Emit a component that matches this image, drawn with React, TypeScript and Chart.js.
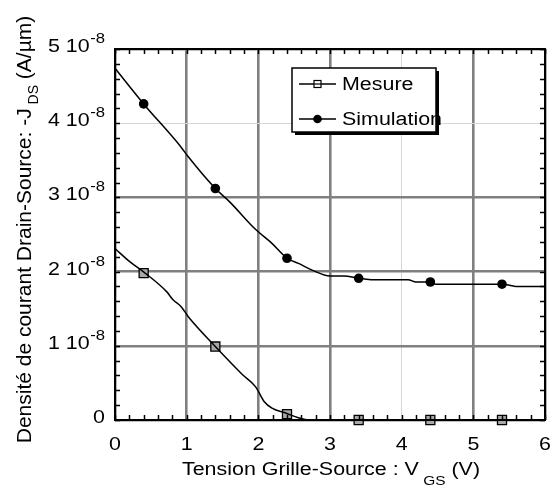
import React, { useEffect, useRef } from "react";
import { Chart, registerables } from "chart.js";

Chart.register(...registerables);

// ---- data (y values in units of 1e-8 A/µm) ----
const SCALE = 1e-8;
const simX = [0, 0.4, 0.92, 1.02, 1.4, 1.6, 1.96, 2.19, 2.4, 2.56, 2.75, 3.0, 3.19, 3.41, 3.6, 4.09, 4.2, 4.38, 4.48, 5.33, 5.42, 5.59, 6];
const simY = [4.74, 4.26, 3.68, 3.55, 3.12, 2.94, 2.57, 2.38, 2.18, 2.11, 2.02, 1.94, 1.94, 1.91, 1.89, 1.89, 1.86, 1.86, 1.83, 1.83, 1.83, 1.80, 1.80];
const simMarkX = [0.4, 1.4, 2.4, 3.4, 4.4, 5.4];
const simMarkY = [4.26, 3.12, 2.18, 1.91, 1.86, 1.83];

const mesX = [0, 0.21, 0.42, 0.72, 0.81, 0.92, 1.04, 1.4, 1.78, 1.96, 2.08, 2.19, 2.39, 2.56, 2.7, 6];
const mesY = [2.31, 2.13, 1.98, 1.73, 1.62, 1.53, 1.37, 0.99, 0.61, 0.45, 0.25, 0.16, 0.09, 0.03, 0, 0];
const mesMarkX = [0.4, 1.4, 2.4, 3.4, 4.4, 5.4];
const mesMarkY = [1.98, 0.99, 0.08, 0, 0, 0];

const xTickLabels = ["0", "1", "2", "3", "4", "5", "6"];
const yTickMantissa = ["0", "1", "2", "3", "4", "5"];
const yTickExponent = "-8";
const legendLabels = ["Mesure", "Simulation"];

const FONT = "'Liberation Sans', Arial, sans-serif";
const SX = 1.19; // horizontal stretch of the reference lettering

function pts(xs: number[], ys: number[]) {
  return xs.map((x, i) => ({ x, y: ys[i] * SCALE }));
}

function textW(ctx: CanvasRenderingContext2D, t: string, font: string, sx: number) {
  ctx.font = font;
  return ctx.measureText(t).width * sx;
}

function drawText(
  ctx: CanvasRenderingContext2D,
  t: string,
  x: number,
  y: number,
  font: string,
  align: CanvasTextAlign,
  sx: number
) {
  ctx.save();
  ctx.font = font;
  ctx.textAlign = align;
  ctx.textBaseline = "alphabetic";
  ctx.translate(x, y);
  ctx.scale(sx, 1);
  ctx.fillText(t, 0, 0);
  ctx.restore();
}

const decorPlugin = {
  id: "decor",
  afterDraw(chart: any) {
    const ctx = chart.ctx as CanvasRenderingContext2D;
    const { left, right, top, bottom } = chart.chartArea;
    const xs = chart.scales.x;
    const ys = chart.scales.y;
    ctx.save();

    // minor ticks (inward) on all four sides
    ctx.strokeStyle = "#000";
    ctx.lineWidth = 1.5;
    ctx.beginPath();
    for (let i = 0; i <= 30; i++) {
      const px = Math.round(xs.getPixelForValue(i * 0.2)) + 0.5;
      ctx.moveTo(px, bottom);
      ctx.lineTo(px, bottom - 5);
      ctx.moveTo(px, top);
      ctx.lineTo(px, top + 5);
    }
    for (let i = 0; i <= 25; i++) {
      const py = Math.round(ys.getPixelForValue(i * 0.2 * SCALE)) + 0.5;
      ctx.moveTo(left, py);
      ctx.lineTo(left + 5, py);
      ctx.moveTo(right, py);
      ctx.lineTo(right - 5, py);
    }
    ctx.stroke();

    // frame
    ctx.lineWidth = 2;
    ctx.strokeRect(left, top, right - left, bottom - top);

    ctx.fillStyle = "#000";
    const F18 = `18px ${FONT}`;
    const F14 = `14px ${FONT}`;
    const F13 = `13px ${FONT}`;

    // x tick labels
    xTickLabels.forEach((t, i) => {
      drawText(ctx, t, xs.getPixelForValue(i), 450, F18, "center", SX);
    });

    // y tick labels with superscript
    yTickMantissa.forEach((m, i) => {
      const py = ys.getPixelForValue(i * SCALE);
      const rightX = 105;
      if (m === "0") {
        drawText(ctx, "0", rightX, py + 3, F18, "right", SX);
      } else {
        const supW = textW(ctx, yTickExponent, F14, SX);
        drawText(ctx, yTickExponent, rightX, py - 6, F14, "right", SX);
        drawText(ctx, m + " 10", rightX - supW - 0.5, py + 3, F18, "right", SX);
      }
    });

    // x title with subscript
    const xParts = [
      { t: "Tension Grille-Source : V", f: F18, dy: 0 },
      { t: " GS", f: F13, dy: 10 },
      { t: " (V)", f: F18, dy: 0 },
    ];
    let w = 0;
    xParts.forEach((p) => { w += textW(ctx, p.t, p.f, SX); });
    let cx = 331 - w / 2;
    xParts.forEach((p) => {
      drawText(ctx, p.t, cx, 475 + p.dy, p.f, "left", SX);
      cx += textW(ctx, p.t, p.f, SX);
    });

    // y title rotated with subscript
    const F21 = `21px ${FONT}`;
    const yParts = [
      { t: "Densité de courant Drain-Source: -J", f: F21, dy: 0 },
      { t: " DS", f: `14px ${FONT}`, dy: 7 },
      { t: " (A/µm)", f: F21, dy: 0 },
    ];
    w = 0;
    yParts.forEach((p) => { w += textW(ctx, p.t, p.f, 1); });
    ctx.save();
    ctx.translate(31, 229.5);
    ctx.rotate(-Math.PI / 2);
    let lx = -w / 2;
    yParts.forEach((p) => {
      drawText(ctx, p.t, lx, p.dy, p.f, "left", 1);
      lx += textW(ctx, p.t, p.f, 1);
    });
    ctx.restore();

    // legend box with shadow
    const bx = 292, by = 68, bw = 144, bh = 64;
    ctx.fillStyle = "#000";
    ctx.fillRect(bx + 3, by + 3, bw, bh);
    ctx.fillStyle = "#fff";
    ctx.fillRect(bx, by, bw, bh);
    ctx.strokeStyle = "#000";
    ctx.lineWidth = 1.5;
    ctx.strokeRect(bx, by, bw, bh);

    const rows = [84, 119];
    ctx.lineWidth = 1.5;
    rows.forEach((ry) => {
      ctx.beginPath();
      ctx.moveTo(299, ry);
      ctx.lineTo(336, ry);
      ctx.stroke();
    });
    // square marker
    ctx.fillStyle = "#fff";
    ctx.fillRect(314, rows[0] - 3.5, 7, 7);
    ctx.lineWidth = 1.2;
    ctx.strokeRect(314, rows[0] - 3.5, 7, 7);
    ctx.beginPath();
    ctx.moveTo(314, rows[0]);
    ctx.lineTo(321, rows[0]);
    ctx.stroke();
    // circle marker
    ctx.fillStyle = "#000";
    ctx.beginPath();
    ctx.arc(317.5, rows[1], 4.3, 0, Math.PI * 2);
    ctx.fill();

    drawText(ctx, legendLabels[0], 342, 90, F18, "left", SX);
    drawText(ctx, legendLabels[1], 342, 125, F18, "left", SX);

    ctx.restore();
  },
};

export default function App() {
  const ref = useRef<HTMLCanvasElement | null>(null);

  useEffect(() => {
    if (!ref.current) return;
    const chart = new Chart(ref.current, {
      type: "line",
      data: {
        datasets: [
          {
            label: "Simulation",
            data: pts(simX, simY),
            borderColor: "#000",
            borderWidth: 1.5,
            pointRadius: 0,
            cubicInterpolationMode: "monotone",
            fill: false,
          },
          {
            label: "Mesure",
            data: pts(mesX, mesY),
            borderColor: "#000",
            borderWidth: 1.5,
            pointRadius: 0,
            cubicInterpolationMode: "monotone",
            fill: false,
          },
          {
            label: "Simulation markers",
            data: pts(simMarkX, simMarkY),
            showLine: false,
            pointStyle: "circle",
            pointRadius: 4.8,
            pointBackgroundColor: "#000",
            pointBorderColor: "#000",
            pointBorderWidth: 0,
            clip: false,
          },
          {
            label: "Mesure markers",
            data: pts(mesMarkX, mesMarkY),
            showLine: false,
            pointStyle: "rect",
            pointRadius: 6.4,
            pointBackgroundColor: "#a8a8a8",
            pointBorderColor: "#000",
            pointBorderWidth: 1.3,
            clip: false,
          },
        ] as any,
      },
      options: {
        animation: false,
        responsive: false,
        maintainAspectRatio: false,
        events: [],
        layout: { padding: { top: 49, right: 9, left: 0, bottom: 0 } },
        plugins: { legend: { display: false }, tooltip: { enabled: false } },
        scales: {
          x: {
            type: "linear",
            min: 0,
            max: 6,
            ticks: { stepSize: 1, display: false },
            border: { display: false },
            grid: {
              drawTicks: false,
              color: (c: any) => (Math.round(c.tick.value) === 4 ? "#d6d6d6" : "#808080"),
              lineWidth: (c: any) => (Math.round(c.tick.value) === 4 ? 1 : 2.6),
            },
            afterFit: (s: any) => { s.height = 69; },
          },
          y: {
            type: "linear",
            min: 0,
            max: 5 * SCALE,
            ticks: { stepSize: SCALE, display: false },
            border: { display: false },
            grid: {
              drawTicks: false,
              color: (c: any) => (Math.round(c.tick.value / SCALE) === 4 ? "#d6d6d6" : "#808080"),
              lineWidth: (c: any) => (Math.round(c.tick.value / SCALE) === 4 ? 1 : 2.6),
            },
            afterFit: (s: any) => { s.width = 115; },
          },
        },
      } as any,
      plugins: [decorPlugin],
    });
    return () => chart.destroy();
  }, []);

  return (
    <div style={{ position: "absolute", left: 0, top: 0, width: 554, height: 489, background: "#fff" }}>
      <canvas ref={ref} width={554} height={489} style={{ display: "block" }} />
    </div>
  );
}
